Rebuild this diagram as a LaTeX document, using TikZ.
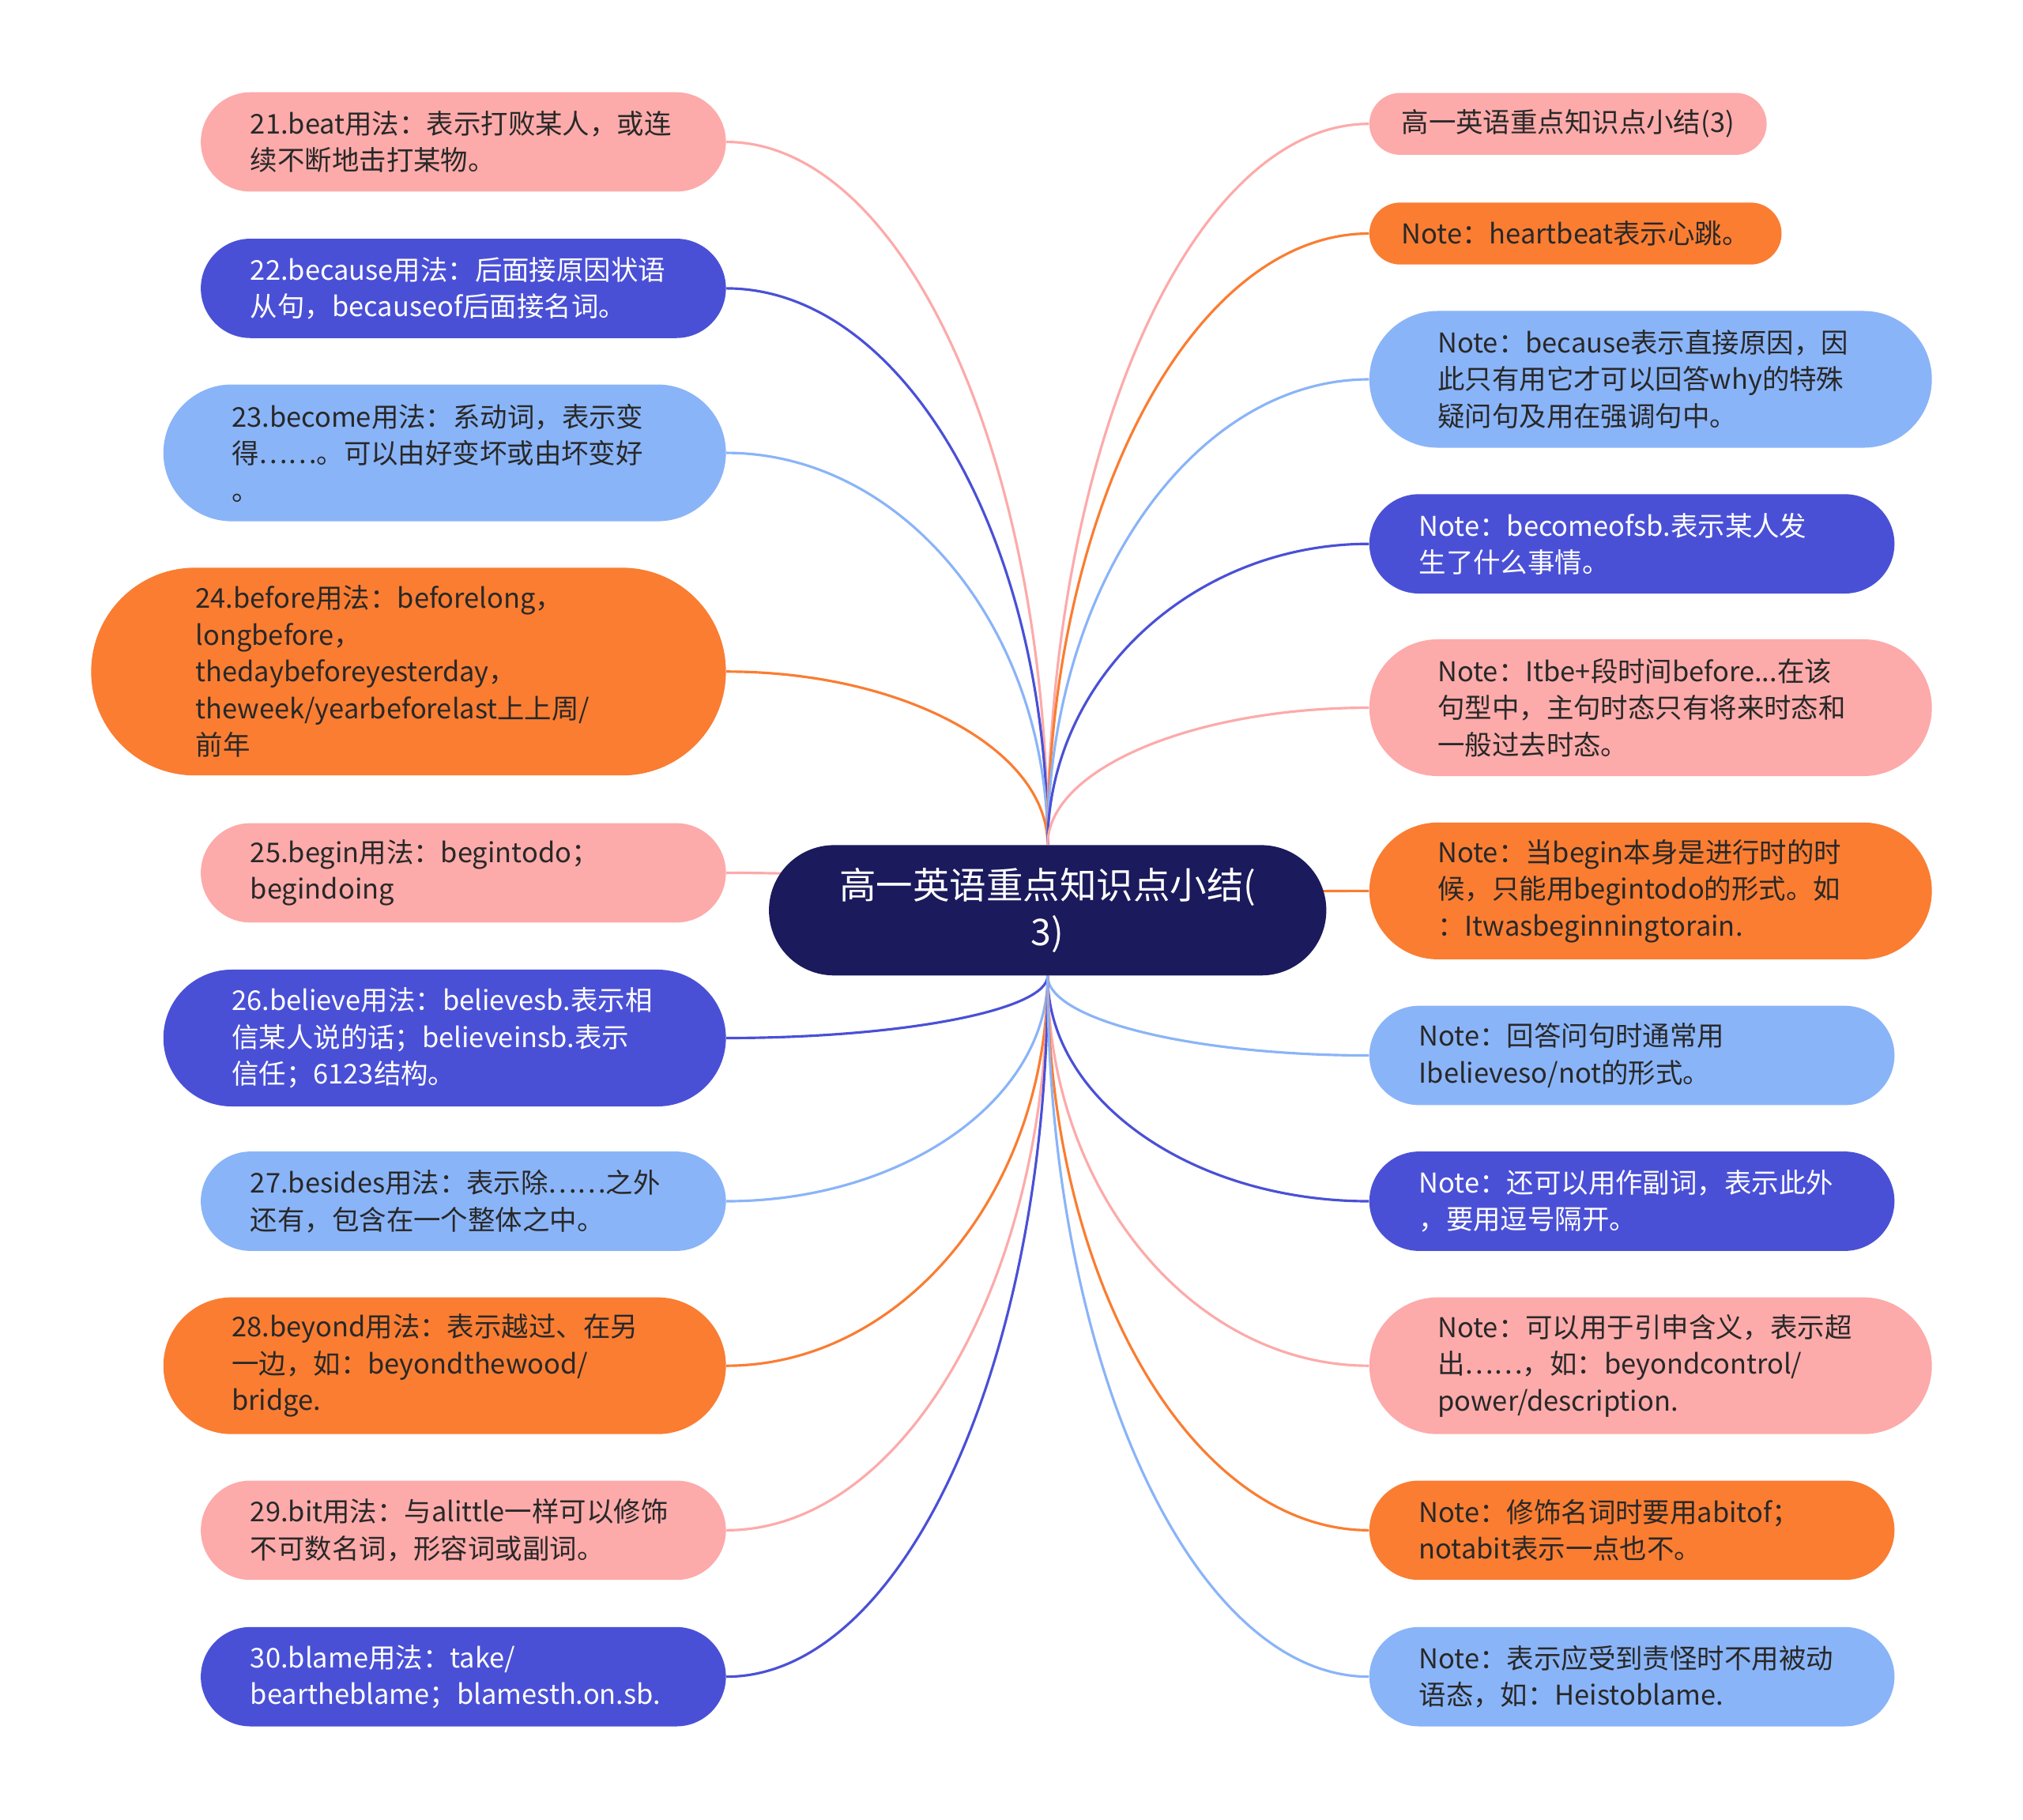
\documentclass[tikz,border=0pt]{standalone}
\usepackage{fontspec}
\setmainfont{Noto Sans CJK SC}
\definecolor{mmpink}{RGB}{253,170,170}
\definecolor{mmblue}{RGB}{74,80,214}
\definecolor{mmsky}{RGB}{138,180,248}
\definecolor{mmorange}{RGB}{250,125,50}
\definecolor{mmnavy}{RGB}{27,26,92}
\definecolor{mmtext}{RGB}{40,40,40}
\usetikzlibrary{positioning,calc,backgrounds}

\tikzset{
    leaf/.style={rectangle, inner ysep=0pt, font=\fontsize{12}{16.2}\selectfont, text=mmtext},
    lines1/.style={leaf, minimum height=0.96cm, inner xsep=0.5cm, rounded corners=0.48cm},
    lines2/.style={leaf, minimum height=1.54cm, inner xsep=0.77cm, rounded corners=0.77cm, text width=6.6cm, align=left},
    lines3/.style={leaf, minimum height=2.12cm, inner xsep=1.06cm, rounded corners=1.06cm, text width=6.6cm, align=left},
    lines5/.style={leaf, minimum height=3.22cm, inner xsep=1.62cm, rounded corners=1.61cm, text width=6.6cm, align=left},
    pinkbox/.style={fill=mmpink},
    bluebox/.style={fill=mmblue, text=white},
    skybox/.style={fill=mmsky},
    orangebox/.style={fill=mmorange},
    % quarter-ellipse like branch: leaves the centre vertically, reaches the leaf horizontally
    branch/.style={line width=1.1pt, to path={
        .. controls ($(\tikztostart)!0.55!(\tikztostart |- \tikztotarget)$)
        and ($(\tikztotarget)!0.55!(\tikztostart |- \tikztotarget)$) .. (\tikztotarget)}},
}

\begin{document}
\begin{tikzpicture}
    \useasboundingbox (0,0) rectangle (31.36,-28.2);

    % Central topic
    \node[fill=mmnavy, text=white, minimum width=8.64cm, minimum height=2.02cm, rounded corners=1.01cm,
        text width=6.46cm, align=center, font=\fontsize{16.2}{20.4}\selectfont] (root) at (16.24,-14.11)
        {高一英语重点知识点小结(\\3)};

    % Left side: word usages
    \node[lines2, pinkbox, anchor=east] (L21) at (11.26,-2.20)
        {21.beat用法：表示打败某人，或连\\续不断地击打某物。};
    \node[lines2, bluebox, anchor=east] (L22) at (11.26,-4.47)
        {22.because用法：后面接原因状语\\从句，becauseof后面接名词。};
    \node[lines3, skybox, anchor=east] (L23) at (11.26,-7.02)
        {23.become用法：系动词，表示变\\得……。可以由好变坏或由坏变好\\。};
    \node[lines5, orangebox, anchor=east] (L24) at (11.26,-10.41)
        {24.before用法：beforelong，\\longbefore，\\thedaybeforeyesterday，\\theweek/yearbeforelast上上周/\\前年};
    \node[lines2, pinkbox, anchor=east] (L25) at (11.26,-13.53)
        {25.begin用法：begintodo；\\begindoing};
    \node[lines3, bluebox, anchor=east] (L26) at (11.26,-16.09)
        {26.believe用法：believesb.表示相\\信某人说的话；believeinsb.表示\\信任；6123结构。};
    \node[lines2, skybox, anchor=east] (L27) at (11.26,-18.62)
        {27.besides用法：表示除……之外\\还有，包含在一个整体之中。};
    \node[lines3, orangebox, anchor=east] (L28) at (11.26,-21.17)
        {28.beyond用法：表示越过、在另\\一边，如：beyondthewood/\\bridge.};
    \node[lines2, pinkbox, anchor=east] (L29) at (11.26,-23.72)
        {29.bit用法：与alittle一样可以修饰\\不可数名词，形容词或副词。};
    \node[lines2, bluebox, anchor=east] (L30) at (11.26,-25.99)
        {30.blame用法：take/\\beartheblame；blamesth.on.sb.};

    % Right side: notes
    \node[lines1, pinkbox, anchor=west] (R1) at (21.22,-1.92) {高一英语重点知识点小结(3)};
    \node[lines1, orangebox, anchor=west] (R2) at (21.22,-3.62) {Note：heartbeat表示心跳。};
    \node[lines3, skybox, anchor=west] (R3) at (21.22,-5.88)
        {Note：because表示直接原因，因\\此只有用它才可以回答why的特殊\\疑问句及用在强调句中。};
    \node[lines2, bluebox, anchor=west] (R4) at (21.22,-8.43)
        {Note：becomeofsb.表示某人发\\生了什么事情。};
    \node[lines3, pinkbox, anchor=west] (R5) at (21.22,-10.97)
        {Note：Itbe+段时间before...在该\\句型中，主句时态只有将来时态和\\一般过去时态。};
    \node[lines3, orangebox, anchor=west] (R6) at (21.22,-13.81)
        {Note：当begin本身是进行时的时\\候，只能用begintodo的形式。如\\：Itwasbeginningtorain.};
    \node[lines2, skybox, anchor=west] (R7) at (21.22,-16.36)
        {Note：回答问句时通常用\\Ibelieveso/not的形式。};
    \node[lines2, bluebox, anchor=west] (R8) at (21.22,-18.62)
        {Note：还可以用作副词，表示此外\\，要用逗号隔开。};
    \node[lines3, pinkbox, anchor=west] (R9) at (21.22,-21.17)
        {Note：可以用于引申含义，表示超\\出……，如：beyondcontrol/\\power/description.};
    \node[lines2, orangebox, anchor=west] (R10) at (21.22,-23.72)
        {Note：修饰名词时要用abitof；\\notabit表示一点也不。};
    \node[lines2, skybox, anchor=west] (R11) at (21.22,-25.99)
        {Note：表示应受到责怪时不用被动\\语态，如：Heistoblame.};

    % Branches behind the nodes
    \begin{pgfonlayer}{background}
        \draw[branch, mmpink] (root.north) to (L21.east);
        \draw[branch, mmblue] (root.north) to (L22.east);
        \draw[branch, mmsky] (root.north) to (L23.east);
        \draw[branch, mmorange] (root.north) to (L24.east);
        \draw[branch, mmpink] (root.center) to (L25.east);
        \draw[branch, mmblue] (root.south) to (L26.east);
        \draw[branch, mmsky] (root.south) to (L27.east);
        \draw[branch, mmorange] (root.south) to (L28.east);
        \draw[branch, mmpink] (root.south) to (L29.east);
        \draw[branch, mmblue] (root.south) to (L30.east);
        \draw[branch, mmpink] (root.north) to (R1.west);
        \draw[branch, mmorange] (root.north) to (R2.west);
        \draw[branch, mmsky] (root.north) to (R3.west);
        \draw[branch, mmblue] (root.north) to (R4.west);
        \draw[branch, mmpink] (root.north) to (R5.west);
        \draw[branch, mmorange] (root.center) to (R6.west);
        \draw[branch, mmsky] (root.south) to (R7.west);
        \draw[branch, mmblue] (root.south) to (R8.west);
        \draw[branch, mmpink] (root.south) to (R9.west);
        \draw[branch, mmorange] (root.south) to (R10.west);
        \draw[branch, mmsky] (root.south) to (R11.west);
    \end{pgfonlayer}
\end{tikzpicture}
\end{document}
